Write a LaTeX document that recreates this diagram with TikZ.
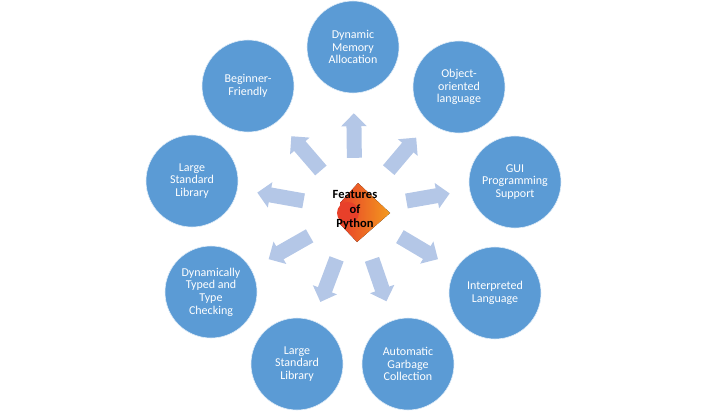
\documentclass[tikz,border=0pt]{standalone}
\usepackage{fontspec}
\setmainfont{Carlito}
\usetikzlibrary{arrows.meta}
\definecolor{featblue}{HTML}{5B9BD5}
\definecolor{arrowblue}{HTML}{B4C7E7}
\definecolor{pyred}{HTML}{E8402A}
\definecolor{pyorange}{HTML}{F39A1E}

\begin{document}
\begin{tikzpicture}[x=1pt,y=-1pt,
    feature/.style={circle,fill=featblue,draw=white!80!featblue,line width=0.6pt,
      minimum size=92pt,inner sep=0pt,text=white,align=center,
      font=\fontsize{12}{12.7}\selectfont},
    hubnode/.style={circle,minimum size=100pt,inner sep=0pt,align=center,
      font=\bfseries\fontsize{12.5}{14.5}\selectfont},
    pointer/.style={arrowblue,line width=15pt,-{Triangle[length=13pt,width=25pt]},
      shorten <=2pt,shorten >=20pt}]
    \useasboundingbox (0,0) rectangle (707,412);
    % logo behind the title
    \fill[left color=pyred,right color=pyorange] (358,183) -- (390,213) -- (357,242)
        -- (340,224) -- (340,203) -- cycle;
    \fill[pyred] (348,213) circle (11);
    \node[hubnode] (hub) at (355,210) {Features\\of\\Python};
    % the nine features
    \node[feature] (memory) at (353,47) {Dynamic\\Memory\\Allocation};
    \node[feature] (oop) at (459,87) {Object-\\oriented\\language};
    \node[feature] (gui) at (515,182) {GUI\\Programming\\Support};
    \node[feature] (interp) at (495,293) {Interpreted\\Language};
    \node[feature] (garbage) at (408,364) {Automatic\\Garbage\\Collection};
    \node[feature] (stdlibb) at (297,364) {Large\\Standard\\Library};
    \node[feature] (typing) at (211,292) {Dynamically\\Typed and\\Type\\Checking};
    \node[feature] (stdlibl) at (192,181) {Large\\Standard\\Library};
    \node[feature] (beginner) at (248,86) {Beginner-\\Friendly};
    % arrows out of the hub
    \foreach \target in {memory,oop,gui,interp,garbage,stdlibb,typing,stdlibl,beginner}
        \draw[pointer] (hub) -- (\target);
\end{tikzpicture}
\end{document}
